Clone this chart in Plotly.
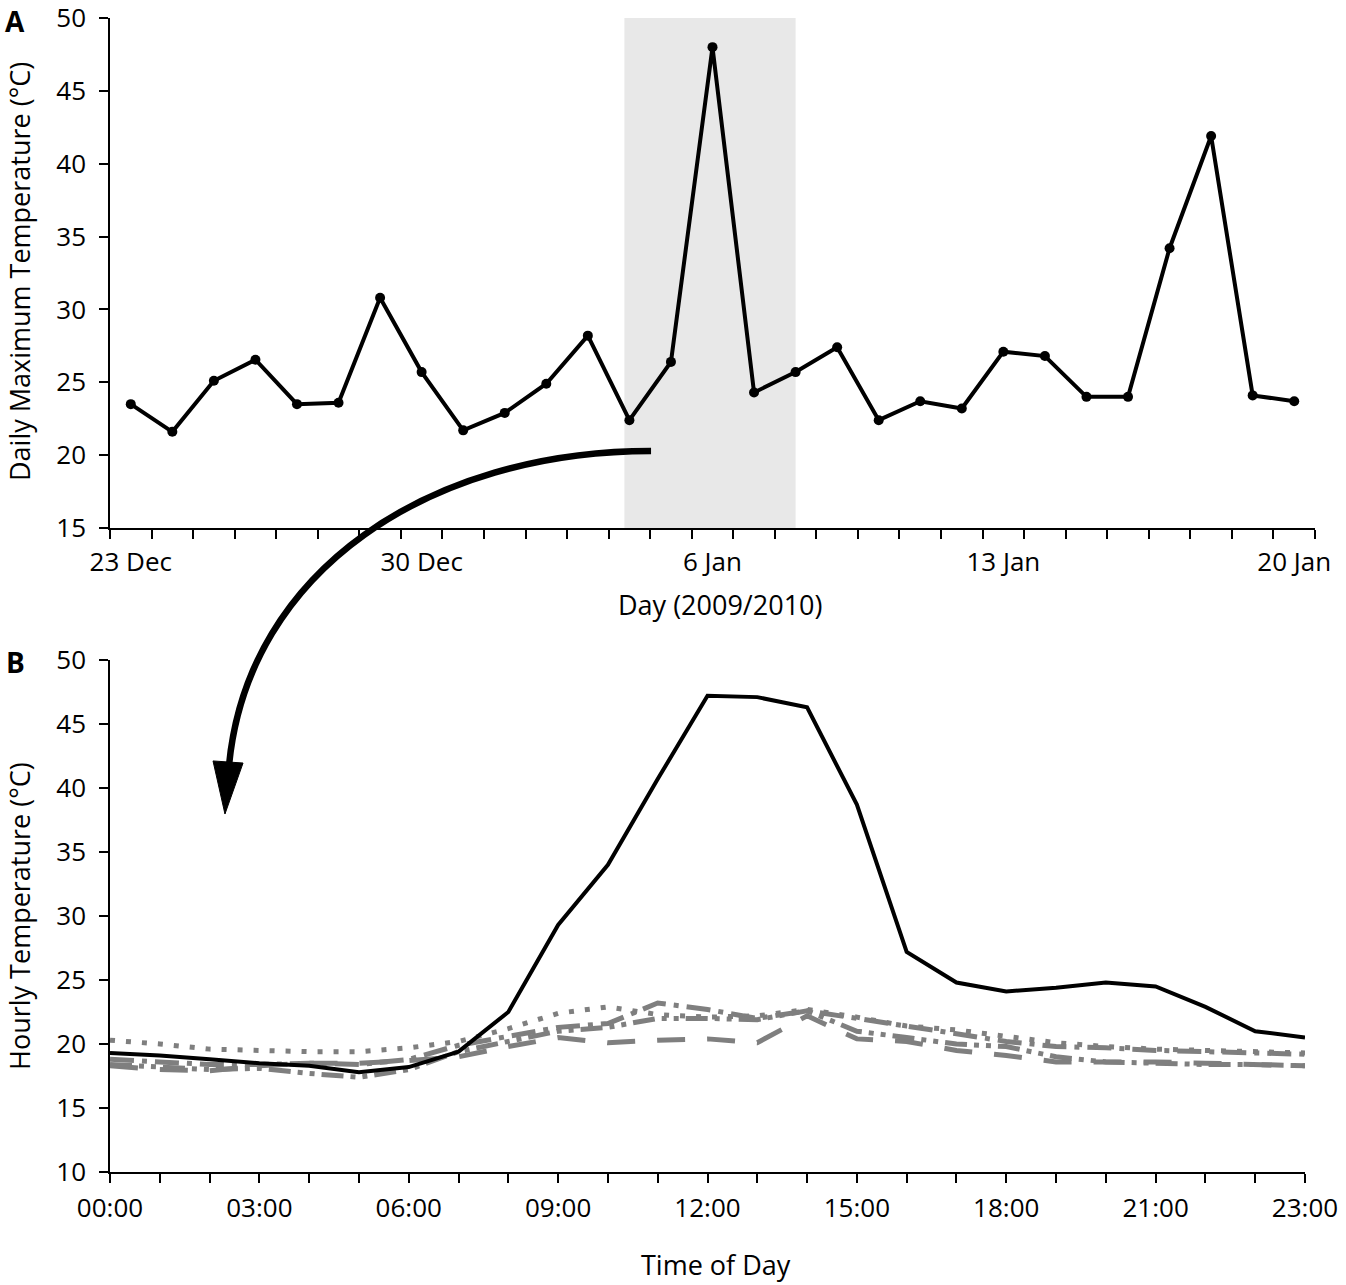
import plotly.graph_objects as go

# --- Panel A: daily maximum temperature, 23 Dec 2009 - 20 Jan 2010 ---
day_index = [0, 1, 2, 3, 4, 5, 6, 7, 8, 9, 10, 11, 12, 13, 14,
             15, 16, 17, 18, 19, 20, 21, 22, 23, 24, 25, 26, 27, 28]
daily_max = [23.5, 21.6, 25.1, 26.55, 23.5, 23.6, 30.8, 25.7, 21.7, 22.9,
             24.9, 28.2, 22.4, 26.4, 48.0, 24.3, 25.7, 27.4, 22.4, 23.7,
             23.2, 27.1, 26.8, 24.0, 24.0, 34.2, 41.9, 24.1, 23.7]
day_tickvals = [0, 7, 14, 21, 28]
day_ticktext = ["23 Dec", "30 Dec", "6 Jan", "13 Jan", "20 Jan"]
shade_from, shade_to = 11.88, 16.0  # highlighted days (heat event)

# --- Panel B: hourly temperature ---
hours = [0, 1, 2, 3, 4, 5, 6, 7, 8, 9, 10, 11, 12,
         13, 14, 15, 16, 17, 18, 19, 20, 21, 22, 23, 24]
hot_day = [19.3, 19.1, 18.8, 18.5, 18.3, 17.8, 18.2, 19.4, 22.5, 29.3, 34.0, 40.7, 47.2,
           47.1, 46.3, 38.7, 27.2, 24.8, 24.1, 24.4, 24.8, 24.5, 22.9, 21.0, 20.5]
other_dot = [20.3, 20.0, 19.6, 19.5, 19.4, 19.4, 19.7, 20.2, 21.2, 22.4, 22.9, 22.3, 22.1,
             22.2, 22.7, 22.1, 21.4, 21.1, 20.6, 20.1, 19.8, 19.6, 19.5, 19.4, 19.3]
other_dashdot = [18.8, 18.6, 18.4, 18.4, 18.5, 18.4, 18.8, 19.9, 20.6, 21.3, 21.6, 23.2, 22.7,
                 22.0, 22.6, 22.0, 21.4, 20.8, 20.2, 19.8, 19.7, 19.5, 19.4, 19.3, 19.2]
other_longdash = [18.3, 18.0, 17.9, 18.3, 18.5, 18.5, 18.7, 19.0, 19.8, 20.5, 20.1, 20.3, 20.4,
                  20.1, 22.2, 20.4, 20.2, 19.5, 19.1, 18.6, 18.6, 18.6, 18.5, 18.4, 18.3]
other_dashdotdot = [18.4, 18.2, 18.0, 18.1, 17.7, 17.4, 18.0, 19.4, 20.2, 21.0, 21.3, 22.0, 22.0,
                    21.9, 22.6, 21.0, 20.5, 20.0, 19.8, 19.0, 18.6, 18.5, 18.4, 18.4, 18.3]
hour_tickvals = [0, 3, 6, 9, 12, 15, 18, 21, 24]
hour_ticktext = ["00:00", "03:00", "06:00", "09:00", "12:00", "15:00", "18:00", "21:00", "23:00"]

FONT = "Open Sans"
GREY = "#7f7f7f"

# page geometry (body margin is removed below, so figure pixels = page pixels)
W, H = 1346, 1285
L, T = 110, 18
R, B = W - 1315, H - 1172
PW, PH = W - L - R, H - T - B


def px(x):
    # page x -> paper fraction
    return (x - L) / PW


def py(y):
    # page y -> paper fraction
    return (H - B - y) / PH


fig = go.Figure()

# panel A
fig.add_trace(go.Scatter(x=day_index, y=daily_max, mode="lines+markers",
                         line=dict(color="black", width=4),
                         marker=dict(color="black", size=10),
                         xaxis="x", yaxis="y", showlegend=False))

# panel B
grey_series = [
    (other_dot, "5px,11px"),
    (other_dashdot, "24px,8px,5px,8px"),
    (other_longdash, "28px,22px"),
    (other_dashdotdot, "22px,7px,5px,7px,5px,7px"),
]
for vals, dash in grey_series:
    fig.add_trace(go.Scatter(x=hours, y=vals, mode="lines",
                             line=dict(color=GREY, width=5, dash=dash),
                             xaxis="x2", yaxis="y2", showlegend=False))
fig.add_trace(go.Scatter(x=hours, y=hot_day, mode="lines",
                         line=dict(color="black", width=4),
                         xaxis="x2", yaxis="y2", showlegend=False))

# shaded heat-event window in panel A
fig.add_shape(type="rect", xref="x", yref="y", x0=shade_from, x1=shade_to, y0=15, y1=50.2,
              fillcolor="#e8e8e8", line=dict(width=0), layer="below")

# curved arrow from panel A to panel B
p0, p1, p2, p3 = (651, 451), (430, 451), (248, 570), (229, 765)
path = "M {:.4f},{:.4f} C {:.4f},{:.4f} {:.4f},{:.4f} {:.4f},{:.4f}".format(
    px(p0[0]), py(p0[1]), px(p1[0]), py(p1[1]), px(p2[0]), py(p2[1]), px(p3[0]), py(p3[1]))
fig.add_shape(type="path", xref="paper", yref="paper", path=path,
              line=dict(color="black", width=6.5))
head = "M {:.4f},{:.4f} L {:.4f},{:.4f} L {:.4f},{:.4f} Z".format(
    px(213), py(761), px(243), py(763), px(225), py(814))
fig.add_shape(type="path", xref="paper", yref="paper", path=head,
              fillcolor="black", line=dict(color="black", width=1))

axis_common = dict(showgrid=False, zeroline=False, showline=True, linecolor="black",
                   linewidth=1.5, ticks="outside", tickcolor="black", tickwidth=1.5,
                   automargin=False, ticklabeloverflow="allow",
                   tickfont=dict(family=FONT, size=26, color="black"))

fig.update_layout(
    template="none",
    width=W, height=H,
    margin=dict(l=L, r=R, t=T, b=B, autoexpand=False),
    paper_bgcolor="white", plot_bgcolor="white",
    font=dict(family=FONT, color="black"),
    xaxis=dict(axis_common, domain=[0, 1], anchor="y", range=[-0.5, 28.5],
               tickmode="array", tickvals=day_tickvals, ticktext=day_ticktext,
               ticklen=10, tickcolor="rgba(0,0,0,0)",
               minor=dict(tickmode="array", tickvals=[i - 0.5 for i in range(30)],
                          ticks="outside", ticklen=9, tickcolor="black", tickwidth=1.5)),
    yaxis=dict(axis_common, domain=[py(528), 1], anchor="x", range=[15, 50],
               tickmode="array", tickvals=[15, 20, 25, 30, 35, 40, 45, 50], ticklen=9,
               ticklabelstandoff=8),
    xaxis2=dict(axis_common, domain=[0, px(1305)], anchor="y2", range=[0, 24],
                tickmode="array", tickvals=hour_tickvals, ticktext=hour_ticktext, ticklen=9,
                ticklabelstandoff=3,
                minor=dict(dtick=1, tick0=0, ticks="outside", ticklen=9,
                           tickcolor="black", tickwidth=1.5)),
    yaxis2=dict(axis_common, domain=[0, py(660)], anchor="x2", range=[10, 50],
                tickmode="array", tickvals=[10, 15, 20, 25, 30, 35, 40, 45, 50], ticklen=9,
                ticklabelstandoff=8),
)

# axis titles and panel letters
ann_font = dict(family=FONT, size=27, color="black")
ann_common = dict(xref="paper", yref="paper", showarrow=False, xanchor="center", yanchor="middle")
fig.add_annotation(text="Daily Maximum Temperature (°C)", textangle=-90,
                   x=px(19), y=py(272), font=ann_font, **ann_common)
fig.add_annotation(text="Day (2009/2010)", x=px(720), y=py(605), font=ann_font, **ann_common)
fig.add_annotation(text="Hourly Temperature (°C)", textangle=-90,
                   x=px(19), y=py(916), font=ann_font, **ann_common)
fig.add_annotation(text="Time of Day", x=px(716), y=py(1264), font=ann_font, **ann_common)
fig.add_annotation(text="<b>A</b>", x=px(15), y=py(21),
                   font=dict(family=FONT, size=28, color="black"), **ann_common)
fig.add_annotation(text="<b>B</b>", x=px(15), y=py(662),
                   font=dict(family=FONT, size=28, color="black"), **ann_common)

fig.write_html("out.html", config={"displayModeBar": False},
               post_script="document.body.style.margin = '0px';")
